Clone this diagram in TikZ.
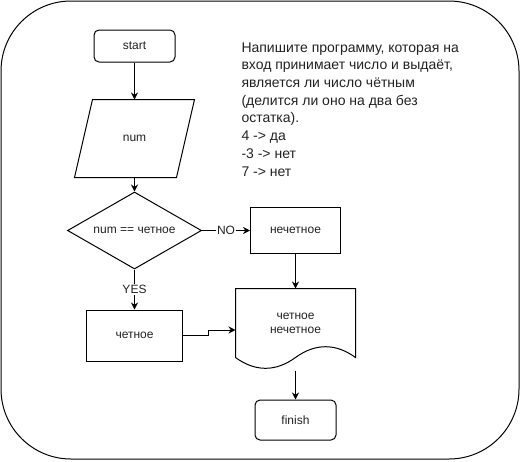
\documentclass[tikz,border=0pt]{standalone}
\usepackage{fontspec}
\setmainfont{Liberation Sans}
\usepackage{xcolor}
\usepackage{tikz}
\usetikzlibrary{arrows.meta,shapes.geometric,positioning}
\definecolor{inkgray}{RGB}{34, 34, 34}

\begin{document}
\begin{tikzpicture}[x=1pt, y=-1pt, line width=1pt,
    every node/.style={font=\fontsize{12}{14}\selectfont, text=inkgray},
    arr/.style={-{Stealth[length=7pt, width=7pt]}},
    term/.style={draw, rounded corners=5pt, minimum width=81pt, minimum height=32pt},
    proc/.style={draw, minimum width=90pt, minimum height=46pt},
    tag/.style={fill=white, inner sep=1pt}]
            \useasboundingbox (0,0) rectangle (521,461);

            % Outer frame
            \draw[rounded corners=70pt] (1,1) rectangle (519,459);

            % Task text
            \node[anchor=north west, inner sep=0pt, align=left, font=\fontsize{14}{17.7}\selectfont] (task) at (241,42)
                {Напишите программу, которая на\\вход принимает число и выдаёт,\\является ли число чётным\\(делится ли оно на два без\\остатка).\\4 -> да\\-3 -> нет\\7 -> нет};

            % Flow nodes
            \node[term] (start) at (134.5,46) {start};
            \node[minimum width=101pt, minimum height=77pt] (num) at (134.5,138.5) {num};
            \node[draw, diamond, aspect=1.74, inner sep=0pt, minimum width=134pt, minimum height=77pt] (check) at (134.5,230.5) {num == четное};
            \node[proc] (odd) at (295.5,230.5) {нечетное};
            \node[proc, minimum width=96pt, minimum height=51pt] (even) at (134.5,335.5) {четное};
            \node[minimum width=119pt, minimum height=68pt, align=center] (doc) at (295.5,323) {четное\\нечетное};
            \node[term, minimum height=40pt] (finish) at (295.5,420) {finish};
            \coordinate (docbot) at ([yshift=-13pt]doc.south);

            % Input and document outlines
            \draw ([xshift=9pt]num.north west) -- ([xshift=9pt]num.north east)
                -- ([xshift=-9pt]num.south east) -- ([xshift=-9pt]num.south west) -- cycle;
            \draw (doc.south west) .. controls +(19.8,14.4) and +(-19.8,14.4) .. (doc.south)
                .. controls +(19.8,-14.4) and +(-19.8,-14.4) .. (doc.south east)
                -- (doc.north east) -- (doc.north west) -- cycle;

            % Arrows
            \draw[arr] (start.south) -- (num.north);
            \draw[arr] (num.south) -- (check.north);
            \draw[arr] (check.east) -- node[tag] {NO} (odd.west);
            \draw[arr] (check.south) -- node[tag] {YES} (even.north);
            \draw[arr] (odd.south) -- (doc.north);
            \draw[arr] (even.east) -- ++(25,0) |- ([yshift=-7pt]doc.west);
            \draw[arr] (docbot) -- (finish.north);
        \end{tikzpicture}
\end{document}
